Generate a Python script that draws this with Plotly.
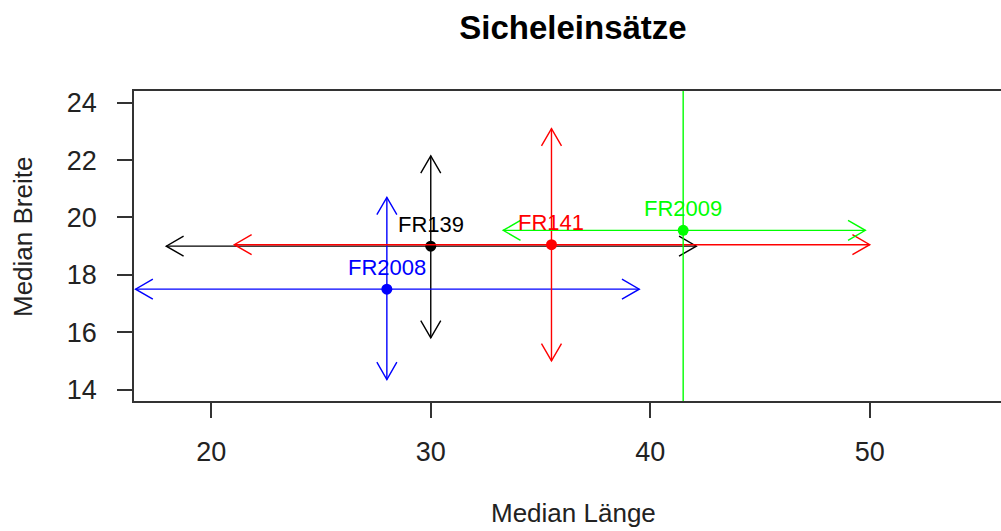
import math
import plotly.graph_objects as go

# ---- data ----
labels = ["FR139", "FR141", "FR2008", "FR2009"]
colors = ["#000000", "#FF0000", "#0000FF", "#00FF00"]
median_x = [30.0, 35.5, 28.0, 41.5]
median_y = [19.0, 19.05, 17.5, 19.55]
x_low = [17.95, 21.05, 16.55, 33.3]
x_high = [42.1, 50.0, 39.5, 49.8]
y_low = [15.8, 15.0, 14.35, 9.0]
y_high = [22.15, 23.1, 20.7, 30.0]
x_ticks = [20, 30, 40, 50]
y_ticks = [14, 16, 18, 20, 22, 24]
draw_order = [0, 2, 1, 3]

# ---- layout constants ----
W, H = 1001, 531
ML, MR, MT, MB = 134, 0, 91, 130
XR = [16.48, 55.98]
YR = [13.60, 24.41]
pw, ph = W - ML - MR, H - MT - MB
sx = pw / (XR[1] - XR[0])
sy = ph / (YR[1] - YR[0])
HEAD = 20.0
ANG = math.radians(30)
hdx = HEAD * math.cos(ANG) / sx
hdy = HEAD * math.sin(ANG) / sy
vdx = HEAD * math.sin(ANG) / sx
vdy = HEAD * math.cos(ANG) / sy

FONT = "Liberation Sans, Arial, sans-serif"
fig = go.Figure()

for i in draw_order:
    x0, y0 = median_x[i], median_y[i]
    xs, ys = [], []
    # horizontal shaft
    xs += [x_low[i], x_high[i], None]
    ys += [y0, y0, None]
    # left head
    xs += [x_low[i] + hdx, x_low[i], x_low[i] + hdx, None]
    ys += [y0 + hdy, y0, y0 - hdy, None]
    # right head
    xs += [x_high[i] - hdx, x_high[i], x_high[i] - hdx, None]
    ys += [y0 + hdy, y0, y0 - hdy, None]
    # vertical shaft
    xs += [x0, x0, None]
    ys += [y_low[i], y_high[i], None]
    # bottom head
    xs += [x0 - vdx, x0, x0 + vdx, None]
    ys += [y_low[i] + vdy, y_low[i], y_low[i] + vdy, None]
    # top head
    xs += [x0 - vdx, x0, x0 + vdx, None]
    ys += [y_high[i] - vdy, y_high[i], y_high[i] - vdy, None]
    fig.add_trace(go.Scatter(x=xs, y=ys, mode="lines",
                             line=dict(color=colors[i], width=1.4),
                             hoverinfo="skip", showlegend=False))
    fig.add_trace(go.Scatter(x=[x0], y=[y0], mode="markers",
                             marker=dict(color=colors[i], size=11, symbol="circle"),
                             showlegend=False, cliponaxis=False))
    fig.add_annotation(x=x0, y=y0, text=labels[i], showarrow=False,
                       yshift=22, xanchor="center", yanchor="middle",
                       font=dict(family=FONT, size=22, color=colors[i]))

axis_common = dict(
    showgrid=False, zeroline=False, showline=True, linecolor="#333333",
    linewidth=1.5, ticks="outside", ticklen=15, tickwidth=1.5,
    tickcolor="#333333", tickfont=dict(family=FONT, size=27, color="#222222"),
)
fig.update_xaxes(range=XR, tickvals=x_ticks, mirror=True,
                 ticklabelstandoff=11, **axis_common)
fig.update_yaxes(range=YR, tickvals=y_ticks, mirror=False,
                 ticklabelstandoff=15, **axis_common)

fig.update_layout(
    width=W, height=H,
    margin=dict(l=ML, r=MR, t=MT, b=MB, pad=0),
    plot_bgcolor="white", paper_bgcolor="white",
    title=dict(text="<b>Sicheleinsätze</b>", x=573 / W, xanchor="center",
               y=1 - 27 / H, yanchor="middle",
               font=dict(family=FONT, size=33, color="#000000")),
)
fig.add_annotation(text="Median Länge", xref="paper", yref="paper",
                   x=(573 - ML) / pw, y=(MT + ph - 513) / ph,
                   xanchor="center", yanchor="middle", showarrow=False,
                   font=dict(family=FONT, size=26, color="#222222"))
fig.add_annotation(text="Median Breite", xref="paper", yref="paper",
                   x=(22.5 - ML) / pw, y=(MT + ph - 237.5) / ph, textangle=-90,
                   xanchor="center", yanchor="middle", showarrow=False,
                   font=dict(family=FONT, size=26, color="#222222"))

fig.write_html("out.html",
               config={"displayModeBar": False},
               post_script="document.body.style.margin='0';"
                           "document.body.style.padding='0';"
                           "document.body.style.overflow='hidden';")
